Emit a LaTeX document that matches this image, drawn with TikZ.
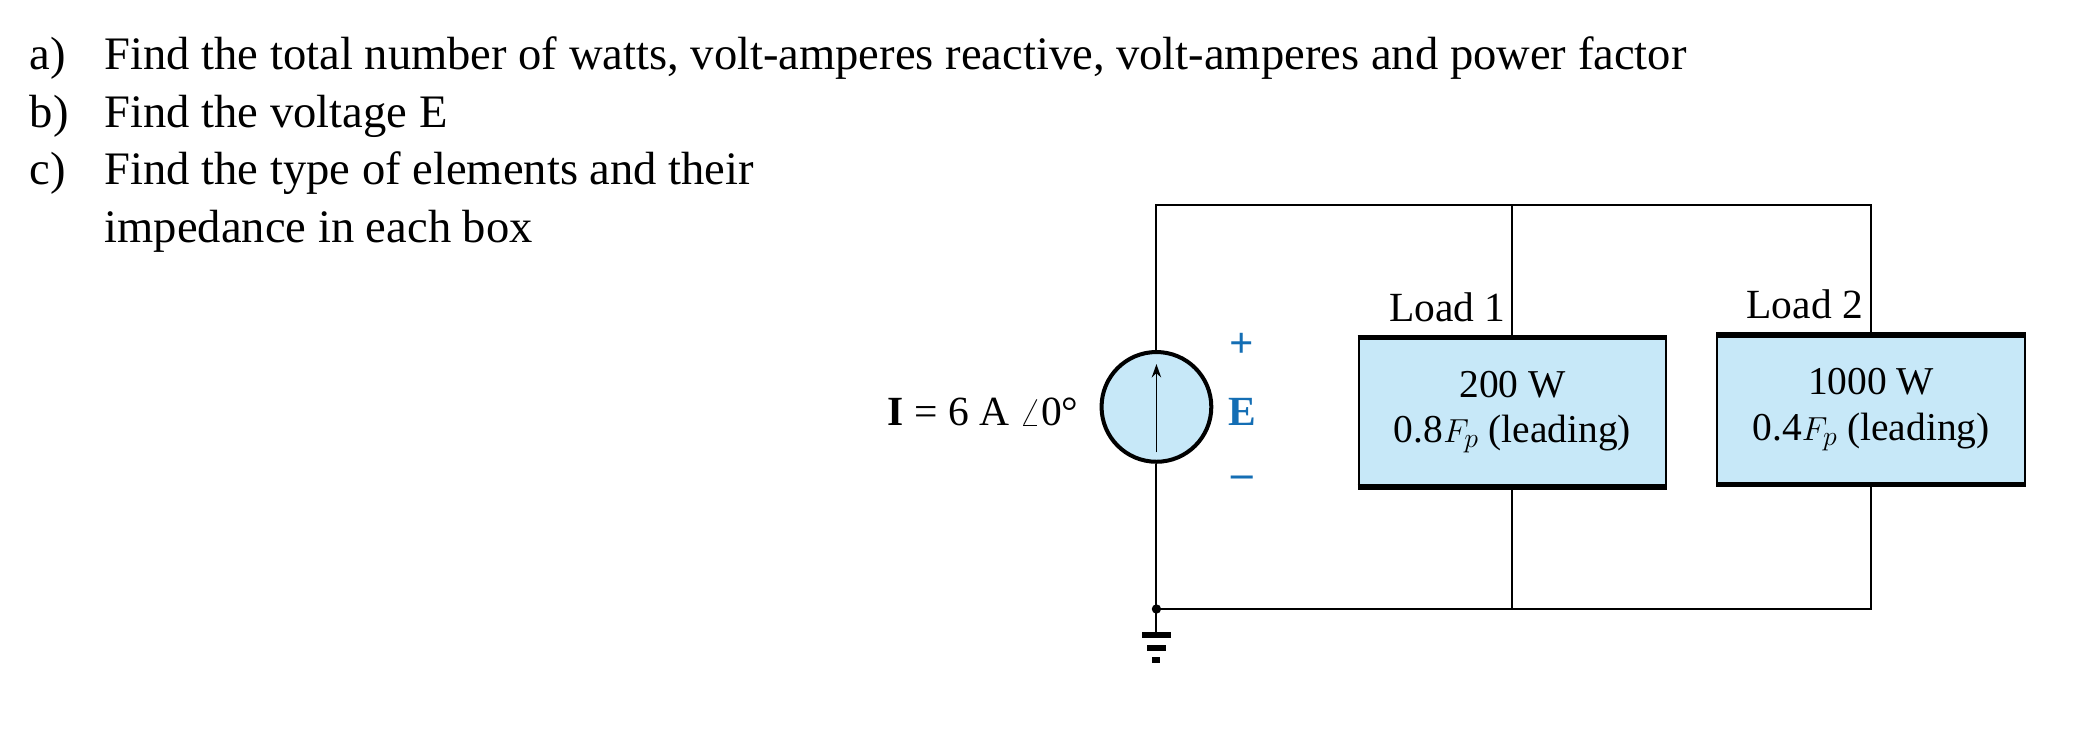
\documentclass[tikz,border=0pt]{standalone}
\usepackage{fontspec}
\setmainfont{Liberation Serif}
\usetikzlibrary{arrows.meta}
\definecolor{boxfill}{RGB}{199,232,248}
\definecolor{pm}{RGB}{20,110,180}
\begin{document}
\begin{tikzpicture}[x=1pt,y=-1pt,
  q/.style={anchor=base west,inner sep=0pt,font=\fontsize{34.8}{40}\selectfont},
  c/.style={inner sep=0pt,font=\fontsize{31}{36}\selectfont},
  wire/.style={line width=1.5pt},
  load/.style={draw,fill=boxfill,line width=1.5pt,minimum width=230pt,minimum height=110pt,inner sep=0pt,align=center,font=\fontsize{29.5}{34}\selectfont},
  thick edge/.style={line width=4pt}]
\useasboundingbox (0,0) rectangle (1560,549);
\node[q] (la) at (22,52) {a)};
\node[q] (ta) at (78,52) {Find the total number of watts, volt-amperes reactive, volt-amperes and power factor};
\node[q] (lb) at (22,95) {b)};
\node[q] (tb) at (78,95) {Find the voltage E};
\node[q] (lc) at (22,138) {c)};
\node[q] (tc) at (78,138) {Find the type of elements and their};
\node[q] (td) at (78,181) {impedance in each box};
% circuit
\coordinate (tl) at (864,153);
\coordinate (tm) at (1130,153);
\coordinate (tr) at (1398,153);
\coordinate (bm) at (1130,455);
\coordinate (br) at (1398,455);
\node[draw,circle,fill=boxfill,line width=3pt,minimum size=82pt,inner sep=0pt] (src) at (864,304) {};
\node[load] (L1) at (1130,308) {200 W\\0.8$F_p$ (leading)};
\node[load] (L2) at (1398,306) {1000 W\\0.4$F_p$ (leading)};
\draw[thick edge] (L1.north west) -- (L1.north east);
\draw[thick edge] (L1.south west) -- (L1.south east);
\draw[thick edge] (L2.north west) -- (L2.north east);
\draw[thick edge] (L2.south west) -- (L2.south east);
\fill (864,455) circle (3.5pt) coordinate (gnd);
\draw[wire] (src.north) -- (tl) -- (tr) -- (L2.north);
\draw[wire] (tm) -- (L1.north);
\draw[wire] (src.south) -- (gnd) -- (br) -- (L2.south);
\draw[wire] (bm) -- (L1.south);
\draw[line width=1.4pt,-{Stealth[length=10pt,width=7pt]}] (864,338) -- (864,272);
\node[c,anchor=base east] (ll1) at (1125,240) {Load 1};
\node[c,anchor=base east] (ll2) at (1392,238) {Load 2};
\node[c,anchor=base east] (cur) at (806,318) {\textbf{I} = 6 A $\angle$0\textdegree};
\node[c,text=pm,font=\bfseries\fontsize{32}{36}\selectfont] (pl) at (928,258) {+};
\node[c,text=pm,font=\bfseries\fontsize{31}{36}\selectfont] (E) at (928,308) {E};
\node[c,text=pm,font=\bfseries\fontsize{32}{36}\selectfont] (mi) at (928,360) {--};
\coordinate (g1) at (864,472);
\draw[wire] (gnd) -- (g1);
\fill (853,472) rectangle (875,477);
\fill (857,482) rectangle (871,486);
\fill (861,491) rectangle (867,495);
\end{tikzpicture}
\end{document}
